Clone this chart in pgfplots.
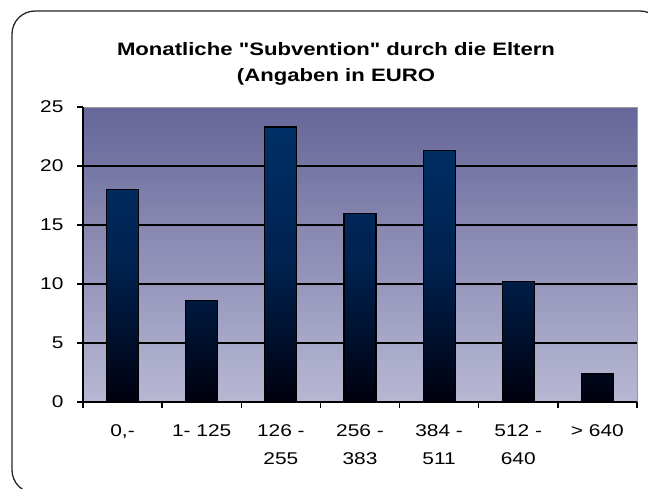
\documentclass[border=0pt]{standalone}
\usepackage{fontspec}
\setmainfont{Liberation Sans}[FakeStretch=1.23]
\newfontfamily\titlefont{Liberation Sans}[FakeStretch=1.23, Ligatures=TeXOff]
\usepackage{pgfplots}
\pgfplotsset{compat=1.18}
\definecolor{bgtop}{RGB}{102,102,153}
\definecolor{bgbot}{RGB}{184,184,212}
\definecolor{bartop}{RGB}{0,48,102}
\definecolor{barmid}{RGB}{0,34,80}
\definecolor{barbot}{RGB}{0,0,14}
\begin{document}
\begin{tikzpicture}[x=1pt,y=1pt]
\useasboundingbox (0,0) rectangle (648,488);
\draw[line width=1.3pt, black!85, rounded corners=23pt] (12,-5) rectangle (663,477);
\node[anchor=base, inner sep=0pt, font=\titlefont\fontsize{18}{20}\selectfont\bfseries] at (336,432) {Monatliche "Subvention" durch die Eltern};
\node[anchor=base, inner sep=0pt, font=\titlefont\fontsize{18}{20}\selectfont\bfseries] at (336,406) {(Angaben in EURO};
\begin{axis}[
  at={(83pt,86pt)}, anchor=south west,
  scale only axis, width=554pt, height=295pt,
  xmin=-0.5, xmax=6.5, ymin=0, ymax=25,
  axis x line*=bottom, axis y line*=left,
  axis line style={black, line width=1.3pt},
  axis background/.style={top color=bgtop, bottom color=bgbot, draw=black!40, line width=1pt},
  tick align=outside,
  tick style={black, line width=1.3pt},
  major tick length=6pt,
  xtick={-0.5,0.5,...,6.5},
  xticklabels={,,,,,,,,},
  extra x ticks={0,1,2,3,4,5,6},
  extra x tick labels={{0,-},{1- 125},{126 -\\255},{256 -\\383},{384 -\\511},{512 -\\640},{> 640}},
  extra x tick style={major tick length=0pt},
  xticklabel style={align=center, anchor=north, yshift=-19pt, font=\fontsize{17}{28}\selectfont},
  ytick={0,5,...,25},
  yticklabel style={font=\fontsize{17}{20}\selectfont, xshift=-10pt},
  extra y ticks={5,10,15,20},
  extra y tick labels={},
  extra y tick style={grid=major, major tick length=0pt},
  major grid style={black, line width=1.3pt},
  /pgf/number format/assume math mode=true,
  clip=false,
]
\addplot[ybar, bar width=32pt, draw=black, line width=1.2pt,
  top color=bartop, bottom color=barbot, middle color=barmid]
  coordinates {(0,18) (1,8.6) (2,23.3) (3,16) (4,21.3) (5,10.2) (6,2.4)};
\end{axis}
\end{tikzpicture}
\end{document}
